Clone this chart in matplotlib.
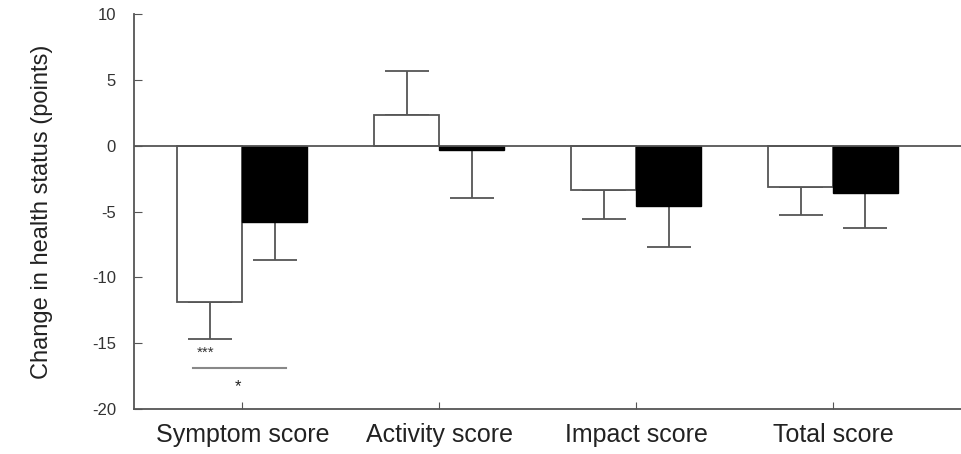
import numpy as np
import matplotlib
matplotlib.use("Agg")
import matplotlib.pyplot as plt

plt.rcParams["font.family"] = ["Liberation Sans", "DejaVu Sans"]

categories = ["Symptom score", "Activity score", "Impact score", "Total score"]
group_a = [-11.85, 2.3, -3.35, -3.1]      # white bars
group_a_err = [2.85, 3.4, 2.25, 2.15]
group_b = [-5.8, -0.3, -4.6, -3.6]        # black bars
group_b_err = [2.9, 3.65, 3.1, 2.65]
yticks = [10, 5, 0, -5, -10, -15, -20]

fig = plt.figure(figsize=(9.61, 4.54), dpi=100)
ax = fig.add_axes([0.1394, 0.0991, 0.8606, 0.8700])

x = np.arange(len(categories))
w = 0.33
edge = "#555555"

# one-sided error bars (away from zero)
def one_sided(vals, errs):
    lo = [e if v < 0 else 0 for v, e in zip(vals, errs)]
    hi = [e if v >= 0 else 0 for v, e in zip(vals, errs)]
    return [lo, hi]

ekw = dict(fmt="none", ecolor=edge, elinewidth=1.3, capsize=16, capthick=1.3, zorder=1)
ax.errorbar(x - w / 2, group_a, yerr=one_sided(group_a, group_a_err), **ekw)
ax.errorbar(x + w / 2, group_b, yerr=one_sided(group_b, group_b_err), **ekw)

ax.bar(x - w / 2, group_a, w, color="white", edgecolor=edge, linewidth=1.3, zorder=2)
ax.bar(x + w / 2, group_b, w, color="black", edgecolor="black", linewidth=1, zorder=2)

ax.axhline(0, color=edge, linewidth=1.3, zorder=3)

# significance marks
ax.text(-0.185, -15.75, "***", ha="center", va="center", fontsize=11, color="#333333")
ax.plot([-0.25, 0.22], [-16.9, -16.9], color="#888888", linewidth=1.5)
ax.text(-0.02, -18.3, "*", ha="center", va="center", fontsize=12, color="#222222")

ax.set_xlim(-0.55, 3.65)
ax.set_ylim(-20, 10)
ax.set_yticks(yticks)
ax.set_yticklabels([str(t) for t in yticks], fontsize=12, color="#333333")
ax.set_xticks(x)
ax.set_xticklabels(categories, fontsize=18, color="#222222")
ax.tick_params(axis="y", direction="in", length=6, color=edge, pad=13)
ax.tick_params(axis="x", direction="in", length=5, color=edge, pad=10)
ax.set_ylabel("Change in health status (points)", fontsize=17, color="#222222", labelpad=28)

for s in ["top", "right"]:
    ax.spines[s].set_visible(False)
for s in ["left", "bottom"]:
    ax.spines[s].set_color(edge)
    ax.spines[s].set_linewidth(1.3)

fig.savefig("out.png", dpi=100)
